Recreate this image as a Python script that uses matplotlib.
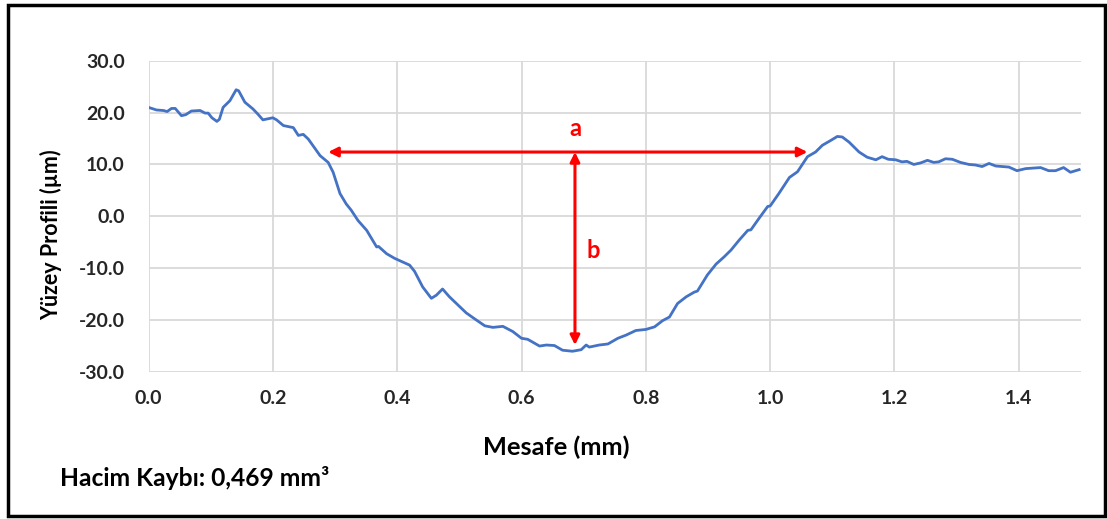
import matplotlib
matplotlib.use("Agg")
import matplotlib.pyplot as plt
from matplotlib.patches import Rectangle

plt.rcParams['font.family'] = ['Lato', 'DejaVu Sans']
plt.rcParams['font.weight'] = 'bold'
plt.rcParams['axes.labelweight'] = 'bold'

# yüzey profili (okunan değerler)
mesafe = [0.000, 0.013, 0.024, 0.030, 0.037, 0.043, 0.053, 0.060, 0.069, 0.083,
          0.091, 0.096, 0.102, 0.110, 0.114, 0.120, 0.131, 0.141, 0.145, 0.155,
          0.168, 0.176, 0.184, 0.192, 0.200, 0.206, 0.217, 0.233, 0.241, 0.249,
          0.257, 0.267, 0.276, 0.289, 0.297, 0.308, 0.318, 0.326, 0.337, 0.351,
          0.367, 0.370, 0.383, 0.396, 0.409, 0.420, 0.428, 0.441, 0.455, 0.463,
          0.473, 0.484, 0.498, 0.511, 0.524, 0.541, 0.554, 0.570, 0.586, 0.600,
          0.610, 0.629, 0.640, 0.653, 0.666, 0.682, 0.696, 0.704, 0.709, 0.725,
          0.739, 0.755, 0.768, 0.784, 0.800, 0.814, 0.827, 0.838, 0.851, 0.865,
          0.878, 0.883, 0.899, 0.913, 0.926, 0.937, 0.950, 0.964, 0.969, 0.982,
          0.996, 1.000, 1.014, 1.031, 1.044, 1.060, 1.073, 1.084, 1.097, 1.108,
          1.116, 1.127, 1.143, 1.156, 1.170, 1.180, 1.190, 1.202, 1.212, 1.220,
          1.231, 1.242, 1.253, 1.263, 1.271, 1.282, 1.293, 1.306, 1.320, 1.330,
          1.341, 1.352, 1.363, 1.384, 1.397, 1.411, 1.435, 1.448, 1.459, 1.472,
          1.483, 1.497]
profil = [21.0, 20.5, 20.4, 20.2, 20.8, 20.8, 19.4, 19.6, 20.3, 20.4,
          19.9, 19.9, 19.0, 18.3, 18.7, 21.0, 22.3, 24.4, 24.2, 22.0,
          20.7, 19.7, 18.6, 18.8, 19.0, 18.6, 17.5, 17.1, 15.6, 15.8,
          14.9, 13.2, 11.7, 10.4, 8.5, 4.4, 2.4, 1.2, -0.8, -2.7,
          -5.9, -5.8, -7.2, -8.1, -8.8, -9.4, -10.6, -13.6, -15.8, -15.2,
          -14.0, -15.5, -17.1, -18.6, -19.7, -21.1, -21.4, -21.2, -22.2, -23.5,
          -23.7, -25.0, -24.8, -24.9, -25.8, -26.0, -25.7, -24.8, -25.2, -24.8,
          -24.6, -23.5, -22.9, -22.0, -21.8, -21.3, -20.1, -19.4, -16.8, -15.5,
          -14.6, -14.4, -11.3, -9.2, -7.8, -6.5, -4.6, -2.7, -2.6, -0.4,
          1.9, 2.0, 4.4, 7.5, 8.6, 11.5, 12.4, 13.7, 14.6, 15.4,
          15.3, 14.3, 12.4, 11.4, 10.9, 11.5, 11.0, 10.9, 10.5, 10.6,
          10.0, 10.3, 10.8, 10.4, 10.5, 11.1, 11.0, 10.4, 10.0, 9.9,
          9.6, 10.2, 9.7, 9.5, 8.8, 9.2, 9.4, 8.8, 8.8, 9.4,
          8.5, 9.0]

x_ticks = [0.0, 0.2, 0.4, 0.6, 0.8, 1.0, 1.2, 1.4]
y_ticks = [-30, -20, -10, 0, 10, 20, 30]

# ölçü okları: a (genişlik), b (derinlik)
a_x = [0.289, 1.060]
a_y = 12.4
b_x = 0.686
b_y = [12.4, -24.8]

fig = plt.figure(figsize=(11.07, 5.19), dpi=100)
ax = fig.add_axes([148.5 / 1107, 1 - 372 / 519, (1081 - 148.5) / 1107, (372 - 60.7) / 519])

ax.plot(mesafe, profil, color='#4472C4', linewidth=2.0, zorder=3)

ax.set_xlim(0, 1.5)
ax.set_ylim(-30, 30)
ax.set_xticks(x_ticks)
ax.set_yticks(y_ticks)
ax.set_xticklabels([f'{v:.1f}' for v in x_ticks])
ax.set_yticklabels([f'{v:.1f}' for v in y_ticks])
ax.tick_params(length=0, labelsize=14, colors='#262626')
ax.tick_params(axis='x', pad=13)
ax.tick_params(axis='y', pad=17)
ax.grid(True, color='#d9d9d9', linewidth=1.3)
ax.set_axisbelow(True)
for s in ax.spines.values():
    s.set_visible(False)

ax.set_xlabel('Mesafe (mm)', fontsize=18.3, color='#000000')
ax.set_ylabel('Yüzey Profili (µm)', fontsize=15.5, color='#000000')
ax.xaxis.set_label_coords(0.437, -0.203)
ax.yaxis.set_label_coords(-0.093, 0.44)

arrow = dict(arrowstyle='<|-|>', color='#FF0000', lw=2.2, mutation_scale=14,
             shrinkA=0, shrinkB=0)
ax.annotate('', xy=(a_x[1], a_y), xytext=(a_x[0], a_y), arrowprops=arrow, zorder=4)
ax.annotate('', xy=(b_x, b_y[1]), xytext=(b_x, b_y[0]), arrowprops=arrow, zorder=4)
ax.text(b_x, 16.9, 'a', color='#FF0000', fontsize=17, ha='center', va='center')
ax.text(b_x + 0.03, -6.5, 'b', color='#FF0000', fontsize=17, ha='center', va='center')

fig.text(60 / 1107, 1 - 478 / 519, 'Hacim Kaybı: 0,469 mm³', fontsize=17.7,
         ha='left', va='center', color='#000000')

fig.patches.append(Rectangle((8 / 1107, 3 / 519), 1097 / 1107, 511 / 519,
                             transform=fig.transFigure, fill=False,
                             edgecolor='#000000', linewidth=2.5))

fig.savefig('out.png', dpi=100)
